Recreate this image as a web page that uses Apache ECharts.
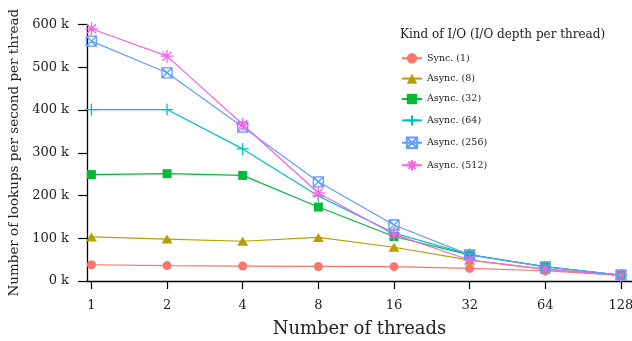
<!DOCTYPE html>
<html>
<head>
<meta charset="utf-8">
<script src="https://cdn.jsdelivr.net/npm/echarts@6/dist/echarts.min.js"></script>
<style>
html,body{margin:0;padding:0;background:#fff;}
#chart{width:632px;height:341px;}
</style>
</head>
<body>
<div id="chart"></div>
<script>
// Data
var threads = [1, 2, 4, 8, 16, 32, 64, 128];
var seriesNames = ['Sync. (1)', 'Async. (8)', 'Async. (32)', 'Async. (64)', 'Async. (256)', 'Async. (512)'];
var sync1    = [38000, 36000, 35000, 34000, 33500, 29500, 24000, 13000];
var async8   = [103000, 98000, 93000, 102000, 79000, 49000, 28000, 13000];
var async32  = [249000, 251000, 247000, 173000, 104000, 61000, 33500, 13500];
var async64  = [401000, 401000, 309000, 199000, 112000, 62000, 33000, 14000];
var async256 = [561000, 487000, 360000, 232000, 131000, 61000, 33000, 14000];
var async512 = [590000, 526000, 366000, 206000, 109000, 49000, 27000, 13000];

var colors = ['#F8766D', '#B79F00', '#00BA38', '#00BFC4', '#619CFF', '#F564E3'];
var values = [sync1, async8, async32, async64, async256, async512];
var symbols = [
  'circle',
  'triangle',
  'rect',
  'path://M5 0 L5 10 M0 5 L10 5',
  'path://M0 0 L10 0 L10 10 L0 10 Z M0 0 L10 10 M10 0 L0 10',
  'path://M5 0 L5 10 M0 5 L10 5 M1.5 1.5 L8.5 8.5 M8.5 1.5 L1.5 8.5'
];
var sizes = [9, [11, 9], 9, 12, 10, 13];
var hollow = [false, false, false, true, true, true];

var FONT = 'DejaVu Serif';

var series = seriesNames.map(function (name, i) {
  var c = colors[i];
  return {
    name: name,
    type: 'line',
    data: threads.map(function (t, j) { return [t, values[i][j]]; }),
    symbol: symbols[i],
    symbolSize: sizes[i],
    showAllSymbol: true,
    lineStyle: { color: c, width: 1.2 },
    itemStyle: hollow[i]
      ? { color: 'rgba(0,0,0,0)', borderColor: c, borderWidth: 1.3 }
      : { color: c, borderWidth: 0 },
    emphasis: { disabled: true },
    animation: false
  };
});

var chart = echarts.init(document.getElementById('chart'), null, { renderer: 'canvas' });
chart.setOption({
  animation: false,
  backgroundColor: '#fff',
  title: {
    text: 'Kind of I/O (I/O depth per thread)',
    left: 400,
    top: 29,
    padding: 0,
    textStyle: { fontFamily: FONT, fontSize: 12, fontWeight: 'normal', color: '#222' }
  },
  legend: {
    orient: 'vertical',
    left: 401,
    top: 53,
    padding: 0,
    itemWidth: 20,
    itemHeight: 13,
    itemGap: 10,
    data: seriesNames,
    textStyle: { fontFamily: FONT, fontSize: 9.5, color: '#222' }
  },
  grid: { left: 87, right: 0, top: 24.5, bottom: 60, containLabel: false, outerBoundsMode: 'none' },
  xAxis: {
    type: 'log',
    logBase: 2,
    min: 0.9605,
    max: 141.6,
    name: 'Number of threads',
    nameLocation: 'middle',
    nameGap: 39,
    nameTextStyle: { fontFamily: FONT, fontSize: 18, color: '#222' },
    axisLine: { lineStyle: { color: '#000', width: 1.3 } },
    axisTick: { show: true, length: 8, lineStyle: { color: '#000', width: 1.2 }, customValues: threads },
    axisLabel: { fontFamily: FONT, fontSize: 13, color: '#222', margin: 18, customValues: threads,
      formatter: function (v) { return String(Math.round(v)); } },
    splitLine: { show: false }
  },
  yAxis: {
    type: 'value',
    min: 0,
    max: 600000,
    interval: 100000,
    name: 'Number of lookups per second per thread',
    nameLocation: 'middle',
    nameGap: 66,
    nameTextStyle: { fontFamily: FONT, fontSize: 13.5, color: '#222' },
    axisLine: { show: true, lineStyle: { color: '#000', width: 1.3 } },
    axisTick: { show: true, length: 9, lineStyle: { color: '#000', width: 1.2 } },
    axisLabel: { fontFamily: FONT, fontSize: 13, color: '#222', margin: 18,
      formatter: function (v) { return (v / 1000) + ' k'; } },
    splitLine: { show: false }
  },
  series: series
});
</script>
</body>
</html>
